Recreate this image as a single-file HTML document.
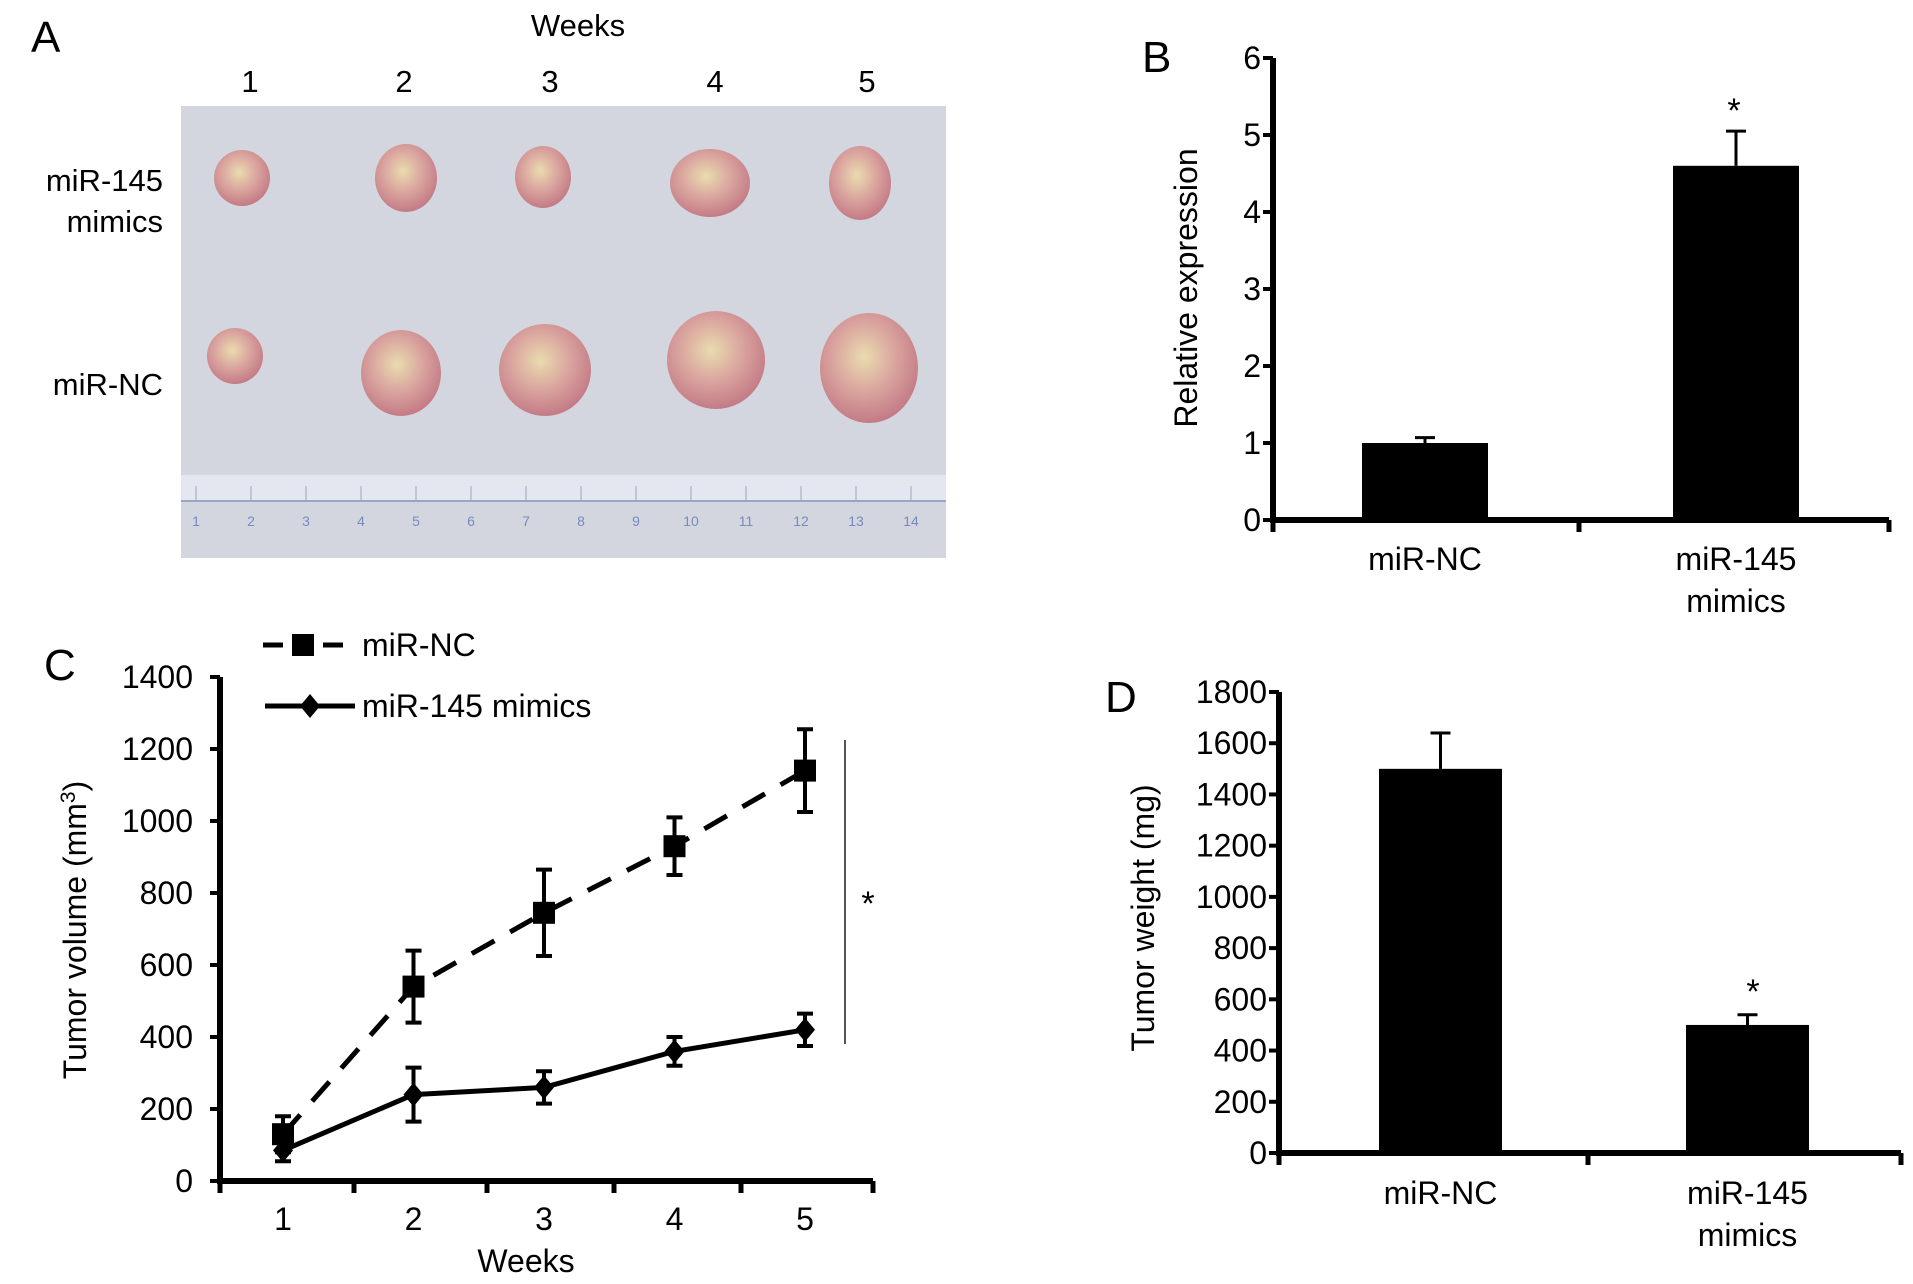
<!DOCTYPE html>
<html><head><meta charset="utf-8"><style>
body{margin:0;background:#fff}
svg{display:block;font-family:"Liberation Sans",Arial,sans-serif}
</style></head><body>
<svg id="fig" width="1913" height="1284" viewBox="0 0 1913 1284">
<defs>
<radialGradient id="tum" cx="0.45" cy="0.4" r="0.6">
<stop offset="0" stop-color="#e9dcae"/><stop offset="0.5" stop-color="#dba7a0"/><stop offset="1" stop-color="#c47b86"/>
</radialGradient>
</defs>
<g>
<text x="31" y="52" font-size="44">A</text>
<text x="578" y="36" font-size="31" text-anchor="middle">Weeks</text>
<g font-size="31" text-anchor="middle">
<text x="250" y="92">1</text><text x="404" y="92">2</text><text x="550" y="92">3</text><text x="715" y="92">4</text><text x="867" y="92">5</text>
</g>
<text x="163" y="191" font-size="31" text-anchor="end">miR-145</text>
<text x="163" y="232" font-size="31" text-anchor="end">mimics</text>
<text x="163" y="395" font-size="31" text-anchor="end">miR-NC</text>
<rect x="181" y="106" width="765" height="452" fill="#d3d6df"/>
<rect x="181" y="475" width="765" height="26" fill="#e4e7ef"/>
<line x1="181" y1="501" x2="946" y2="501" stroke="#9aa6c6" stroke-width="2"/>
<g id="ruler" font-size="14" fill="#7a8ac0" text-anchor="middle"></g>
<g id="tumors"></g>
</g>
<g id="pB"></g>
<g id="pC"></g>
<g id="pD"></g>
</svg>
<script>
const NS='http://www.w3.org/2000/svg';
function el(p,t,a,txt){const e=document.createElementNS(NS,t);for(const k in a)e.setAttribute(k,a[k]);if(txt!==undefined)e.textContent=txt;p.appendChild(e);return e;}

const rg=document.getElementById('ruler');
for(let i=1;i<=14;i++){const x=196+(i-1)*55;el(rg,'text',{x:x,y:526},i);el(rg,'line',{x1:x,x2:x,y1:486,y2:501,stroke:'#9aa6c6','stroke-width':1});}

const tumorRow1=[[242,178,28,28],[406,178,31,34],[543,177,28,31],[710,183,40,34],[860,183,31,37]];
const tumorRow2=[[235,356,28,28],[401,373,40,43],[545,370,46,46],[716,360,49,49],[869,368,49,55]];
const tg=document.getElementById('tumors');
tumorRow1.concat(tumorRow2).forEach(t=>{const e=el(tg,'ellipse',{cx:t[0],cy:t[1],rx:t[2],ry:t[3],fill:'url(#tum)'});

});

const bCats=['miR-NC','miR-145|mimics'];
const bVals=[1.0,4.6];
const bErr=[0.07,0.45];
const bTicks=[0,1,2,3,4,5,6];
const cWeeks=[1,2,3,4,5];
const cNC=[130,540,745,930,1140];
const cNCerr=[50,100,120,80,115];
const cMim=[85,240,260,360,420];
const cMimErr=[30,75,45,40,45];
const cTicks=[0,200,400,600,800,1000,1200,1400];
const dCats=['miR-NC','miR-145|mimics'];
const dVals=[1500,500];
const dErr=[140,40];
const dTicks=[0,200,400,600,800,1000,1200,1400,1600,1800];

const FS=32;
function barPanel(g,o){
  const y=v=>o.y0-(v-o.min)/(o.max-o.min)*(o.y0-o.y1);
  const l=el(g,'text',{x:o.lx,y:o.ly,'font-size':44},o.letter);
  
  
  const ax=el(g,'path',{d:`M${o.ax} ${o.y1}V${o.y0}H${o.xEnd}`,stroke:'#000','stroke-width':6,fill:'none'});
  
  
  o.ticks.forEach(t=>{el(g,'line',{x1:o.ax-10,x2:o.ax,y1:y(t),y2:y(t),stroke:'#000','stroke-width':4});
    const tx=el(g,'text',{x:o.ax-12,y:y(t)+11,'font-size':FS,'text-anchor':'end'},t);
    
    });
  [o.ax,o.mid,o.xEnd].forEach(x=>el(g,'line',{x1:x,x2:x,y1:o.y0,y2:o.y0+12,stroke:'#000','stroke-width':5}));
  o.cats.forEach((c,i)=>{
    const bx=o.barX[i],cx=bx+o.bw/2;
    const r=el(g,'rect',{x:bx,y:y(o.vals[i]),width:o.bw,height:o.y0-y(o.vals[i]),fill:'#000'});
    
    
    const top=y(o.vals[i]+o.err[i]);
    el(g,'path',{d:`M${cx} ${y(o.vals[i])}V${top}M${cx-10} ${top}H${cx+10}`,stroke:'#000','stroke-width':3});
    c.split('|').forEach((s,j)=>{const t=el(g,'text',{x:cx,y:o.labY+j*42,'font-size':FS,'text-anchor':'middle'},s);
      
      });
  });
  const s=el(g,'text',{x:o.star[0],y:o.star[1],'font-size':34,'text-anchor':'middle'},'*');
  
  
  const yt=el(g,'text',{x:o.tx,y:o.ty,'font-size':FS,'text-anchor':'middle',transform:`rotate(-90 ${o.tx} ${o.ty})`},o.title);
  
  
}
barPanel(document.getElementById('pB'),{letter:'B',lx:1142,ly:72,ax:1273,y0:520,y1:58,min:0,max:6,xEnd:1889,mid:1579,
  ticks:bTicks,cats:bCats,vals:bVals,err:bErr,barX:[1362,1673],bw:126,labY:570,star:[1734,122],tx:1197,ty:288,title:'Relative expression'});
barPanel(document.getElementById('pD'),{letter:'D',lx:1105,ly:712,ax:1279,y0:1153,y1:692,min:0,max:1800,xEnd:1901,mid:1588,
  ticks:dTicks,cats:dCats,vals:dVals,err:dErr,barX:[1379,1686],bw:123,labY:1204,star:[1753,1003],tx:1154,ty:918,title:'Tumor weight (mg)'});

(function(){
  const g=document.getElementById('pC');
  const x0=220,y0=1181,y1=677,xEnd=873;
  const wx=[283,425,550,677,805];
  const X=w=>wx[0]+(w-1)*((wx[4]-wx[0])/4);
  const Y=v=>y0-v/1400*(y0-y1);
  const l=el(g,'text',{x:44,y:680,'font-size':44},'C');
  
  
  const ax=el(g,'path',{d:`M${x0} ${y1}V${y0}H${xEnd}`,stroke:'#000','stroke-width':6,fill:'none'});
  
  
  cTicks.forEach(t=>{el(g,'line',{x1:x0-10,x2:x0,y1:Y(t),y2:Y(t),stroke:'#000','stroke-width':4});
    const tx=el(g,'text',{x:x0-27,y:Y(t)+11,'font-size':FS,'text-anchor':'end'},t);
    
    });
  [x0,354,487,614,741,873].forEach(x=>el(g,'line',{x1:x,x2:x,y1:y0,y2:y0+12,stroke:'#000','stroke-width':5}));
  cWeeks.forEach(w=>{const t=el(g,'text',{x:X(w),y:1230,'font-size':FS,'text-anchor':'middle'},w);
    
    });
  const xt=el(g,'text',{x:526,y:1272,'font-size':FS,'text-anchor':'middle'},'Weeks');
  
  
  const yt=el(g,'text',{x:86,y:930,'font-size':FS,'text-anchor':'middle',transform:'rotate(-90 86 930)'});
  
  
  yt.innerHTML='Tumor volume (mm<tspan dy="-11" font-size="21">3</tspan><tspan dy="11">)</tspan>';
  function series(vals,errs,dash,marker,name){
    const sg=el(g,'g',{});
    
    
    el(sg,'polyline',{points:vals.map((v,i)=>X(cWeeks[i])+','+Y(v)).join(' '),fill:'none',stroke:'#000','stroke-width':5,'stroke-dasharray':dash});
    vals.forEach((v,i)=>{const cx=X(cWeeks[i]),cy=Y(v),t=Y(v+errs[i]),b=Y(v-errs[i]);
      el(sg,'path',{d:`M${cx} ${t}V${b}M${cx-8} ${t}H${cx+8}M${cx-8} ${b}H${cx+8}`,stroke:'#000','stroke-width':4});
      if(marker==='sq')el(sg,'rect',{x:cx-11,y:cy-11,width:22,height:22,fill:'#000'});
      else el(sg,'path',{d:`M${cx} ${cy-12}L${cx+10} ${cy}L${cx} ${cy+12}L${cx-10} ${cy}Z`,fill:'#000'});
    });
  }
  series(cNC,cNCerr,'26,18','sq','series-mir-nc');
  series(cMim,cMimErr,'','dia','series-mir-145-mimics');
  el(g,'line',{x1:845,x2:845,y1:740,y2:1044,stroke:'#555','stroke-width':2});
  const s=el(g,'text',{x:868,y:915,'font-size':34,'text-anchor':'middle'},'*');
  
  
  const lg=el(g,'g',{});
  
  
  el(lg,'line',{x1:263,x2:343,y1:645,y2:645,stroke:'#000','stroke-width':5,'stroke-dasharray':'20,10'});
  el(lg,'rect',{x:292,y:634,width:22,height:22,fill:'#000'});
  el(lg,'text',{x:362,y:656,'font-size':FS},'miR-NC');
  el(lg,'line',{x1:265,x2:355,y1:706,y2:706,stroke:'#000','stroke-width':5});
  el(lg,'path',{d:'M310 694L320 706L310 718L300 706Z',fill:'#000'});
  el(lg,'text',{x:362,y:717,'font-size':FS},'miR-145 mimics');
})();
</script>
</body></html>
